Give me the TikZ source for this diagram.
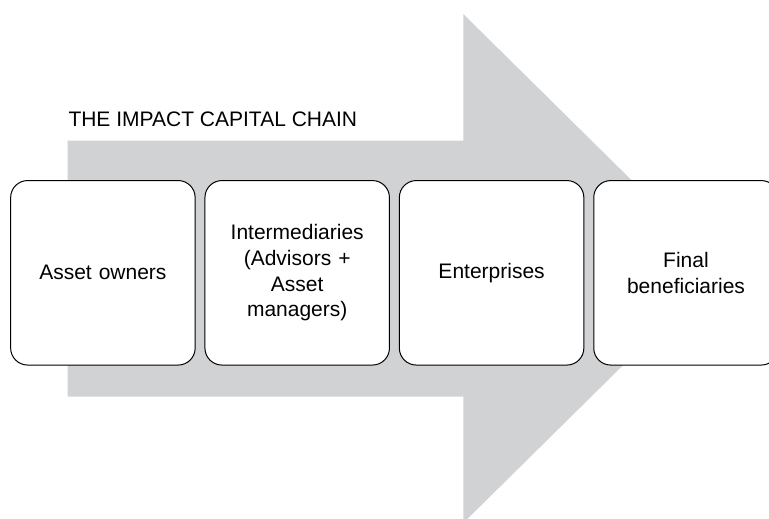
\documentclass[tikz,border=0pt]{standalone}
\usepackage{fontspec}
\setmainfont{Liberation Sans}
\definecolor{arrowgray}{RGB}{209,210,212}
\begin{document}
\begin{tikzpicture}[x=1pt,y=-1pt,
  chainbox/.style={draw=black, line width=1pt, fill=white, rounded corners=17pt,
    minimum width=184.5pt, minimum height=184.5pt, inner sep=0pt,
    text width=175pt, align=center, font=\fontsize{21}{25.7}\selectfont},
  titletext/.style={font=\fontsize{21}{25}\selectfont, inner sep=0pt}]
\useasboundingbox (0,0) rectangle (769,519);
\clip (0,0) rectangle (769,519);
\fill[arrowgray] (67.7,140.7) -- (463.3,140.7) -- (463.3,14) -- (721,268.5)
  -- (463.3,523) -- (463.3,396.7) -- (67.7,396.7) -- cycle;
\node[titletext, anchor=base west] (title) at (68.3,126) {THE IMPACT CAPITAL CHAIN};
\node[chainbox] (b1) at (102.9,272.8) {Asset owners};
\node[chainbox] (b2) at (297.2,272.8) {Intermediaries\\(Advisors +\\Asset\\managers)};
\node[chainbox] (b3) at (491.6,272.8) {Enterprises};
\node[chainbox] (b4) at (686,272.8) {Final\\beneficiaries};
\end{tikzpicture}
\end{document}
